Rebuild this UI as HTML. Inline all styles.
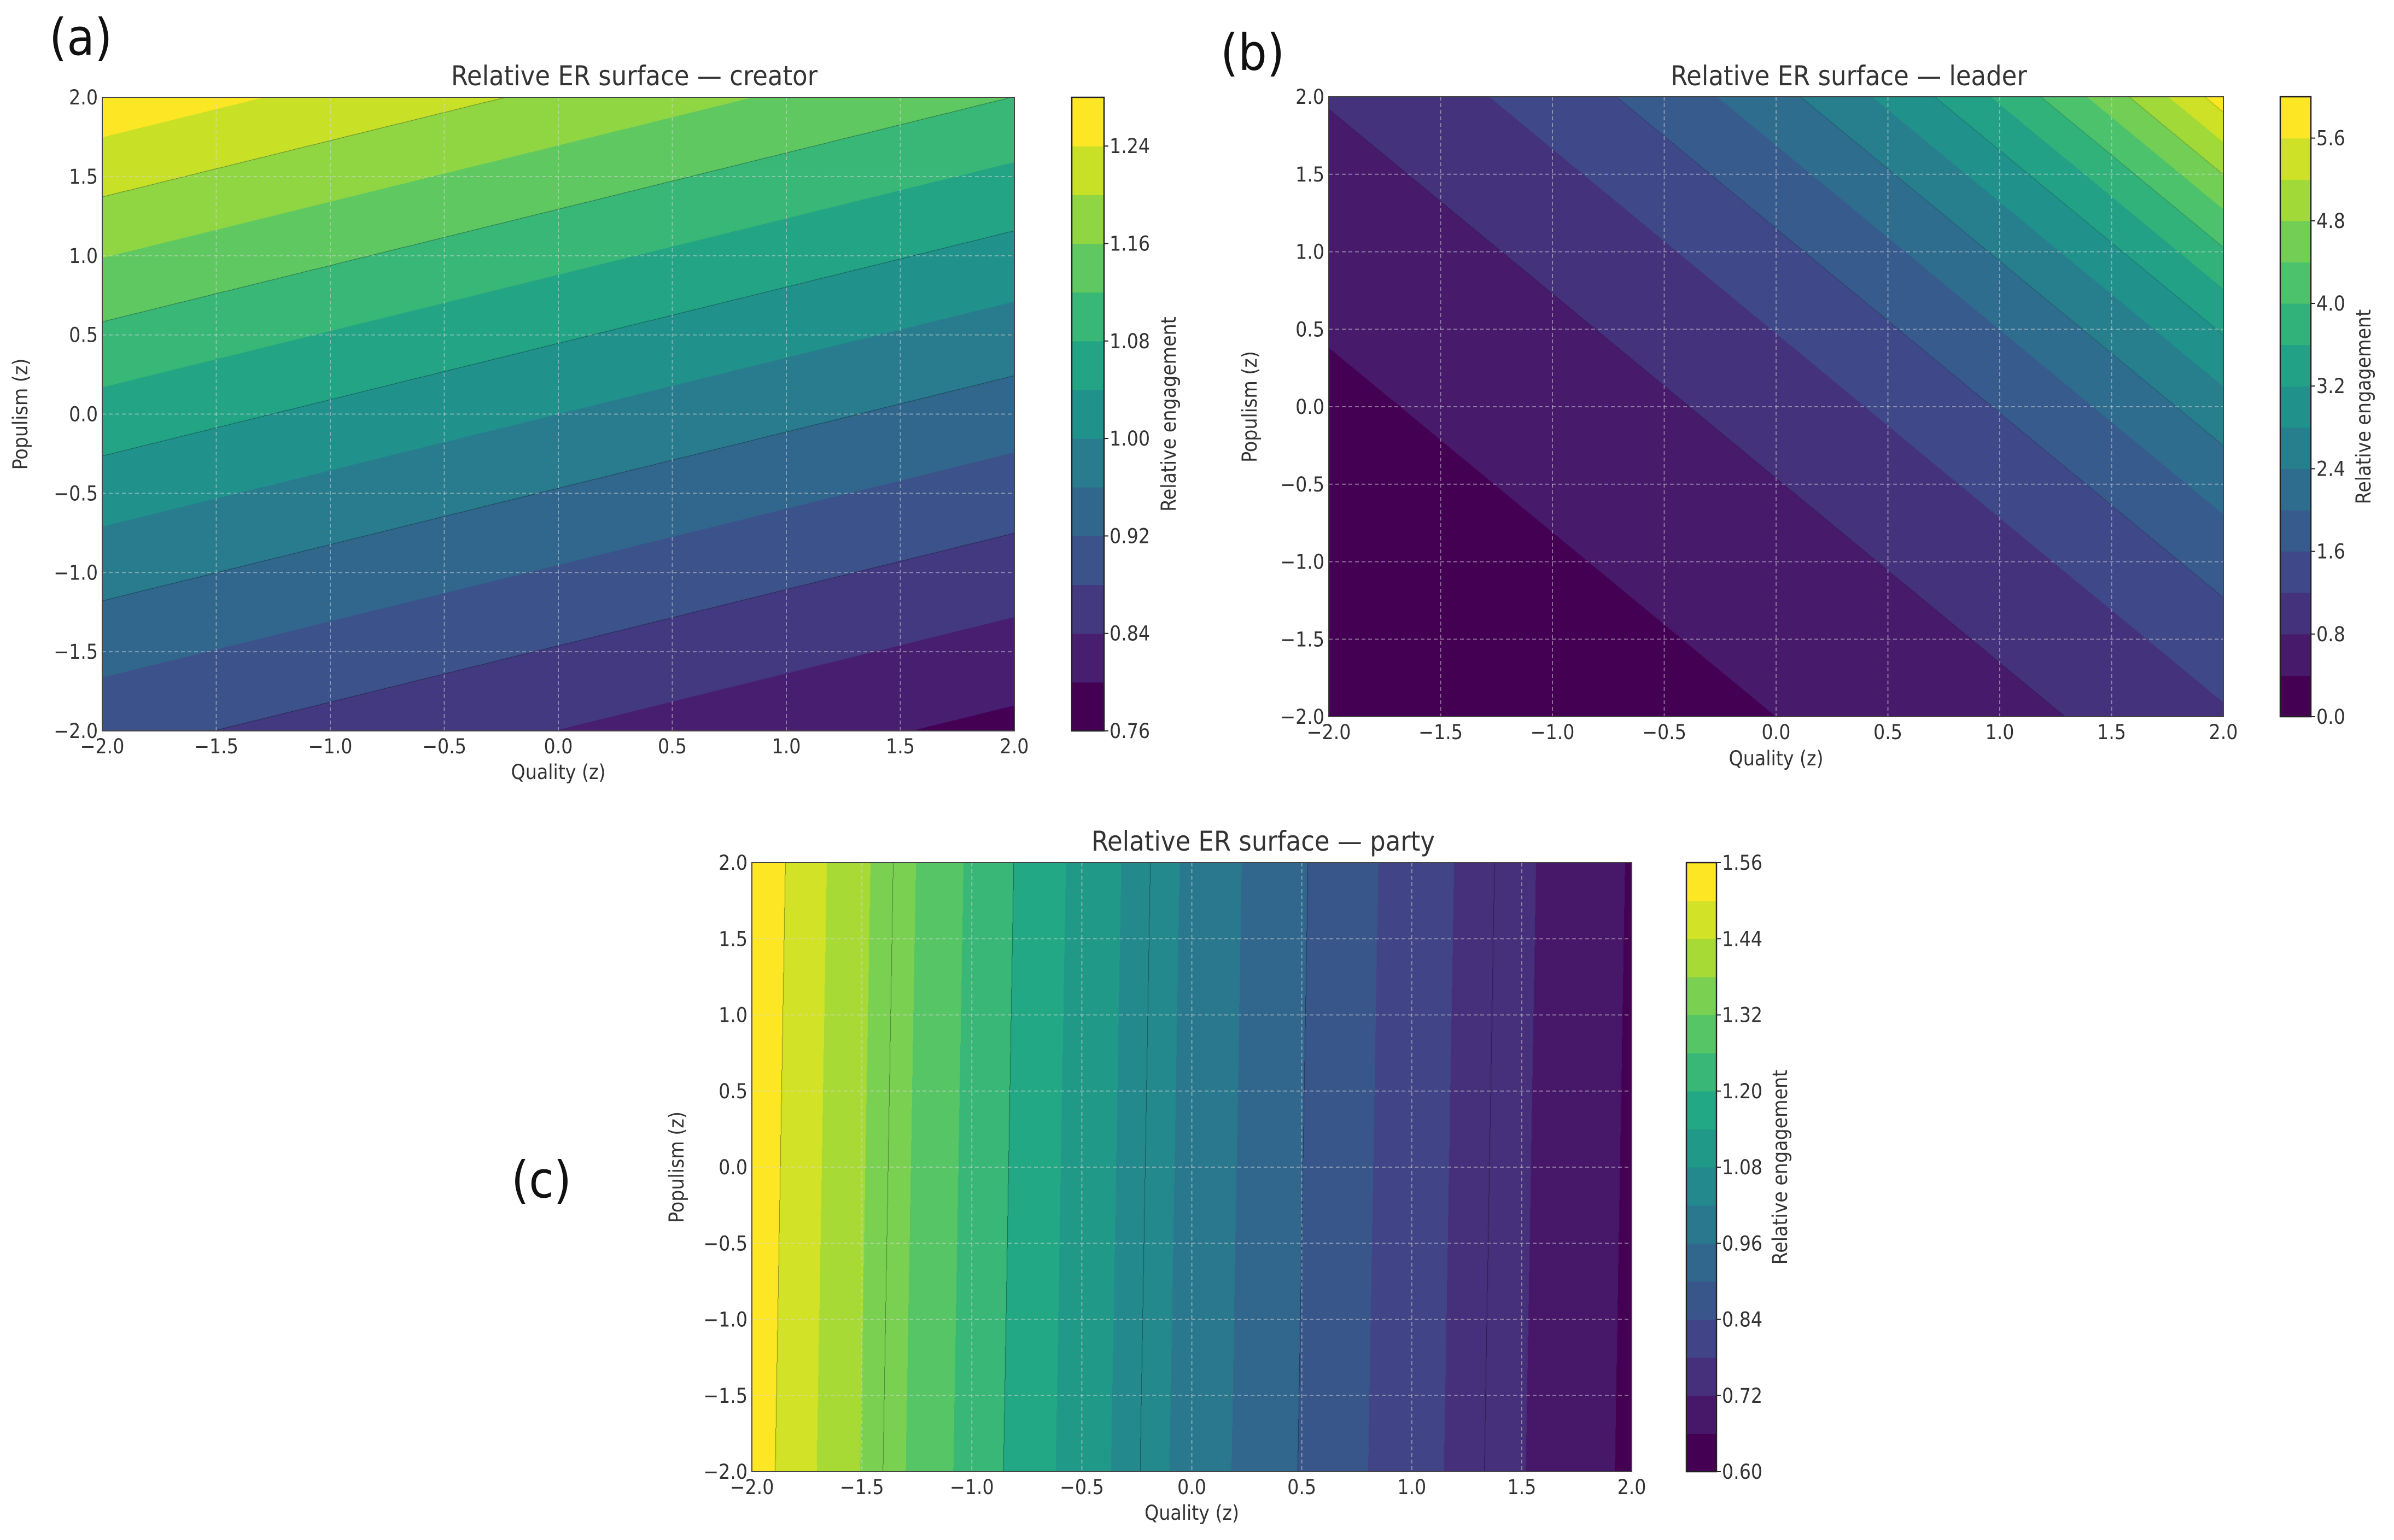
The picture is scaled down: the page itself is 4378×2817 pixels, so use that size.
<!DOCTYPE html>
<html><head><meta charset="utf-8"><title>Relative ER surfaces</title>
<style>
html,body{margin:0;padding:0;background:#fff;}
#root{position:relative;width:4378px;height:2817px;overflow:hidden;background:#fff;}
canvas{position:absolute;}
svg{position:absolute;left:0;top:0;}
text{font-family:"DejaVu Sans Condensed","DejaVu Sans","Liberation Sans",sans-serif;fill:#333;}
</style></head>
<body>
<div id="root">
<canvas id="cv-a"></canvas>
<canvas id="cv-b"></canvas>
<canvas id="cv-c"></canvas>
<svg id="ov" width="4378" height="2817"></svg>
</div>
<script>
// ---- data ----
const axisTicks = [-2.0, -1.5, -1.0, -0.5, 0.0, 0.5, 1.0, 1.5, 2.0];
const axisTickLabels = ["\u22122.0","\u22121.5","\u22121.0","\u22120.5","0.0","0.5","1.0","1.5","2.0"];

// creator: s = a0*q + a1*p ; ln(v) = b0 + b1*s + b2*s^2
const creatorCoefQP = [-0.0311, 0.0875];
const creatorCoefPoly = [0.0, 1.0, 0.0];
const creatorLevels = [0.76,0.80,0.84,0.88,0.92,0.96,1.00,1.04,1.08,1.12,1.16,1.20,1.24,1.28];
const creatorLineLevels = [0.88,0.96,1.04,1.12,1.20];
const creatorCbTicks = [0.76,0.84,0.92,1.00,1.08,1.16,1.24];
const creatorCbLabels = ["0.76","0.84","0.92","1.00","1.08","1.16","1.24"];

// leader
const leaderCoefQP = [0.5, 0.42];
const leaderCoefPoly = [-0.0215, 1.0347, -0.036];
const leaderLevels = [0.0,0.4,0.8,1.2,1.6,2.0,2.4,2.8,3.2,3.6,4.0,4.4,4.8,5.2,5.6,6.0];
const leaderLineLevels = [0.8,1.6,2.4,3.2,4.0,4.8,5.6];
const leaderCbTicks = [0.0,0.8,1.6,2.4,3.2,4.0,4.8,5.6];
const leaderCbLabels = ["0.0","0.8","1.6","2.4","3.2","4.0","4.8","5.6"];

// party
const partyCoefQP = [-0.215, 0.0025];
const partyCoefPoly = [0.003, 1.0, 0.0];
const partyLevels = [0.60,0.66,0.72,0.78,0.84,0.90,0.96,1.02,1.08,1.14,1.20,1.26,1.32,1.38,1.44,1.50,1.56];
const partyLineLevels = [0.75,0.90,1.05,1.20,1.35,1.50];
const partyCbTicks = [0.60,0.72,0.84,0.96,1.08,1.20,1.32,1.44,1.56];
const partyCbLabels = ["0.60","0.72","0.84","0.96","1.08","1.20","1.32","1.44","1.56"];

// ---- layout (pixels) ----
const layout = {
  a:{x0:187,x1:1855,y0:178,y1:1337,cb0:1960,cb1:2019,title:"Relative ER surface \u2014 creator",titleX:1160,titleY:156,
     letter:"(a)",lx:90,ly:100,ylabX:50,xlabY:1425,cbLabX:2150,xtickY:1378,lineDark:0.62},
  b:{x0:2430,x1:4066,y0:177,y1:1311,cb0:4170,cb1:4226,title:"Relative ER surface \u2014 leader",titleX:3381,titleY:156,
     letter:"(b)",lx:2232,ly:128,ylabX:2298,xlabY:1400,cbLabX:4335,xtickY:1352,lineDark:0.82},
  c:{x0:1375,x1:2984,y0:1578,y1:2692,cb0:3084,cb1:3139,title:"Relative ER surface \u2014 party",titleX:2310,titleY:1556,
     letter:"(c)",lx:935,ly:2190,ylabX:1250,xlabY:2780,cbLabX:3268,xtickY:2733,lineDark:0.6}
};

const vStops = ["#440154","#482475","#414487","#355f8d","#2a788e","#21918c","#22a884","#44bf70","#7ad151","#bddf26","#fde725"];
function hex(h){return [parseInt(h.substr(1,2),16),parseInt(h.substr(3,2),16),parseInt(h.substr(5,2),16)];}
const vRGB = vStops.map(hex);
function viridis(t){
  t=Math.max(0,Math.min(1,t));const f=t*10;const i=Math.min(9,Math.floor(f));const r=f-i;
  const a=vRGB[i],b=vRGB[i+1];return [a[0]+(b[0]-a[0])*r,a[1]+(b[1]-a[1])*r,a[2]+(b[2]-a[2])*r];
}
function rgbStr(c){return "rgb("+Math.round(c[0])+","+Math.round(c[1])+","+Math.round(c[2])+")";}

function surface(qp, poly, q, p){
  const s = qp[0]*q + qp[1]*p;
  return Math.exp(poly[0] + poly[1]*s + poly[2]*s*s);
}
function bandIndex(levels, v){
  const n=levels.length-1;
  for(let i=0;i<n;i++){ if(v<levels[i+1]) return i; }
  return n-1;
}
function lineIndex(lines, v){let k=0;for(const l of lines){if(v>=l)k++;}return k;}

const NS="http://www.w3.org/2000/svg";
const ov=document.getElementById('ov');
function el(tag, attrs, parent){const e=document.createElementNS(NS,tag);for(const k in attrs)e.setAttribute(k,attrs[k]);(parent||ov).appendChild(e);return e;}
function txt(str, attrs, parent){const e=el('text',attrs,parent);e.textContent=str;return e;}

function drawPanel(key, qp, poly, levels, lineLevels, cbTicks, cbLabels){
  const L=layout[key];
  const W=L.x1-L.x0, H=L.y1-L.y0;
  const cv=document.getElementById('cv-'+key);
  cv.width=W;cv.height=H;cv.style.left=L.x0+'px';cv.style.top=L.y0+'px';
  const ctx=cv.getContext('2d');
  const img=ctx.createImageData(W,H);
  const n=levels.length-1;
  const cols=[];for(let i=0;i<n;i++)cols.push(viridis(n>1?i/(n-1):0));
  const li=new Int16Array(W*H);
  for(let y=0;y<H;y++){
    const p=2-4*(y+0.5)/H;
    for(let x=0;x<W;x++){
      const q=-2+4*(x+0.5)/W;
      const v=surface(qp,poly,q,p);
      const c=cols[bandIndex(levels,v)];
      const o=(y*W+x)*4;
      img.data[o]=c[0];img.data[o+1]=c[1];img.data[o+2]=c[2];img.data[o+3]=255;
      li[y*W+x]=lineIndex(lineLevels,v);
    }
  }
  const d=L.lineDark;
  for(let y=1;y<H;y++){for(let x=1;x<W;x++){
    const k=y*W+x;
    if(li[k]!==li[k-1]||li[k]!==li[k-W]){
      const o=k*4;img.data[o]*=d;img.data[o+1]*=d;img.data[o+2]*=d;
    }
  }}
  ctx.putImageData(img,0,0);

  const g=el('g',{});  
  const xs=q=>L.x0+(q+2)/4*W, ys=p=>L.y0+(2-p)/4*H;
  const grid=el('g',{},g);  
  axisTicks.forEach(t=>{
    el('line',{x1:xs(t),x2:xs(t),y1:L.y0,y2:L.y1,stroke:'#d8d8d8','stroke-width':2,'stroke-dasharray':'7 5',opacity:0.5},grid);
    el('line',{x1:L.x0,x2:L.x1,y1:ys(t),y2:ys(t),stroke:'#d8d8d8','stroke-width':2,'stroke-dasharray':'7 5',opacity:0.5},grid);
  });
  el('rect',{x:L.x0,y:L.y0,width:W,height:H,fill:'none',stroke:'#444','stroke-width':2},g);
  const xt=el('g',{},g);  
  axisTicks.forEach((t,i)=>{txt(axisTickLabels[i],{x:xs(t),y:L.xtickY,'font-size':37,'text-anchor':'middle'},xt);});
  const yt=el('g',{},g);  
  axisTicks.forEach((t,i)=>{txt(axisTickLabels[i],{x:L.x0-8,y:ys(t)+13,'font-size':37,'text-anchor':'end'},yt);});
  const tt=txt(L.title,{x:L.titleX,y:L.titleY,'font-size':50,'text-anchor':'middle'},g);
   
  const xl=txt('Quality (z)',{x:(L.x0+L.x1)/2,y:L.xlabY,'font-size':37,'text-anchor':'middle'},g);
   
  const ym=(L.y0+L.y1)/2;
  const yl=txt('Populism (z)',{x:L.ylabX,y:ym,'font-size':37,'text-anchor':'middle',transform:'rotate(-90 '+L.ylabX+' '+ym+')'},g);
   
  const lt=txt(L.letter,{x:L.lx,y:L.ly,'font-size':92,'text-anchor':'start',style:'fill:#111'},g);
   
  const cb=el('g',{},g);  
  const lo=levels[0], hi=levels[n];
  const cy=v=>L.y1-(v-lo)/(hi-lo)*H;
  for(let i=0;i<n;i++){
    const r=el('rect',{x:L.cb0,y:cy(levels[i+1]),width:L.cb1-L.cb0,height:cy(levels[i])-cy(levels[i+1])+0.6,fill:rgbStr(cols[i])},cb);
    
    
  }
  el('rect',{x:L.cb0,y:L.y0,width:L.cb1-L.cb0,height:H,fill:'none',stroke:'#222','stroke-width':2.5},cb);
  cbTicks.forEach((t,i)=>{
    el('line',{x1:L.cb1,x2:L.cb1+8,y1:cy(t),y2:cy(t),stroke:'#222','stroke-width':2},cb);
    txt(cbLabels[i],{x:L.cb1+10,y:cy(t)+13,'font-size':37,'text-anchor':'start'},cb);
  });
  const cl=txt('Relative engagement',{x:L.cbLabX,y:ym,'font-size':37,'text-anchor':'middle',transform:'rotate(-90 '+L.cbLabX+' '+ym+')'},cb);
   
}

drawPanel('a', creatorCoefQP, creatorCoefPoly, creatorLevels, creatorLineLevels, creatorCbTicks, creatorCbLabels);
drawPanel('b', leaderCoefQP, leaderCoefPoly, leaderLevels, leaderLineLevels, leaderCbTicks, leaderCbLabels);
drawPanel('c', partyCoefQP, partyCoefPoly, partyLevels, partyLineLevels, partyCbTicks, partyCbLabels);
</script>
</body></html>
